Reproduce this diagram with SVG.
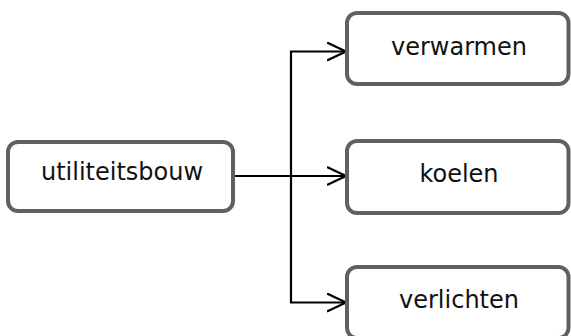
<svg xmlns="http://www.w3.org/2000/svg" width="571" height="336" viewBox="0 0 571 336">
<defs>
<style>
.box{fill:#fff;stroke:#606060;stroke-width:4}
.lbl{font-family:"DejaVu Sans",sans-serif;font-size:24px;fill:#111;text-anchor:middle}
.conn{fill:none;stroke:#000;stroke-width:2.2}
</style>
<marker id="arr" viewBox="0 0 20 20" refX="19" refY="10" markerWidth="20" markerHeight="20" markerUnits="userSpaceOnUse" orient="auto">
<path d="M0,1 L19,10 L0,19" fill="none" stroke="#000" stroke-width="2.2"/>
</marker>
</defs>
<g id="connectors">
<path class="conn" d="M233,176 H291"/>
<path class="conn" d="M291,176 V51.5 H346" marker-end="url(#arr)"/>
<path class="conn" d="M291,176 H346" marker-end="url(#arr)"/>
<path class="conn" d="M291,176 V302.5 H346" marker-end="url(#arr)"/>
</g>
<g id="utiliteitsbouw">
<rect class="box" x="8" y="142" width="225" height="69" rx="10"/>
<text class="lbl" x="122" y="180">utiliteitsbouw</text>
</g>
<g id="verwarmen">
<rect class="box" x="347" y="13" width="221.5" height="71" rx="10"/>
<text class="lbl" x="459" y="55">verwarmen</text>
</g>
<g id="koelen">
<rect class="box" x="347" y="141" width="221.5" height="72" rx="10"/>
<text class="lbl" x="459" y="182">koelen</text>
</g>
<g id="verlichten">
<rect class="box" x="347" y="267" width="221.5" height="71" rx="10"/>
<text class="lbl" x="459" y="308">verlichten</text>
</g>
</svg>
